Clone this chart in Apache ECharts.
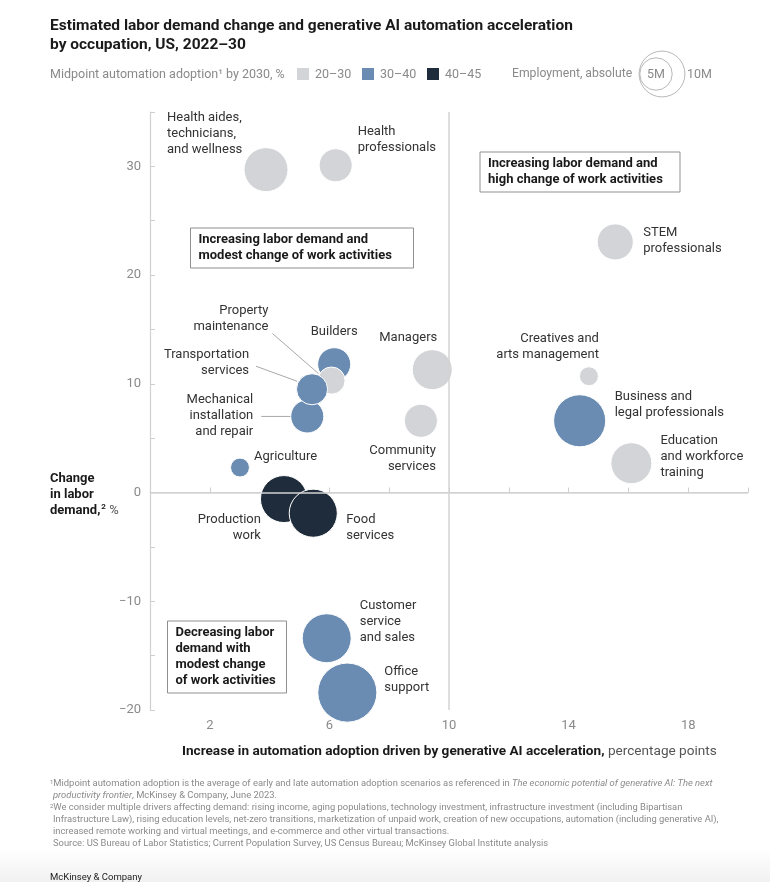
<!DOCTYPE html>
<html><head><meta charset="utf-8">
<script src="https://cdn.jsdelivr.net/npm/echarts@6/dist/echarts.min.js"></script>
<style>html,body{margin:0;padding:0;background:#fff}#c{width:770px;height:882px}</style>
</head><body><div id="c"></div>
<script>
// ---------- DATA ----------
const occupations = [
  'Health aides,\ntechnicians,\nand wellness',
  'Health\nprofessionals',
  'STEM\nprofessionals',
  'Managers',
  'Builders',
  'Property\nmaintenance',
  'Mechanical\ninstallation\nand repair',
  'Transportation\nservices',
  'Community\nservices',
  'Creatives and\narts management',
  'Business and\nlegal professionals',
  'Education\nand workforce\ntraining',
  'Agriculture',
  'Production\nwork',
  'Food\nservices',
  'Customer\nservice\nand sales',
  'Office\nsupport'
];
const automationIncreasePts = [3.88, 6.21, 15.56, 9.44, 6.16, 6.07, 5.26, 5.42, 9.06, 14.68, 14.37, 16.1, 3.01, 4.48, 5.46, 5.91, 6.6];
const laborDemandChangePct = [29.7, 30.1, 23.05, 11.3, 11.8, 10.3, 7.0, 9.5, 6.6, 10.7, 6.6, 2.7, 2.3, -0.6, -1.9, -13.4, -18.4];
const employmentMillions = [9.2, 5.2, 6.2, 7.6, 5.2, 3.5, 5.2, 4.6, 5.2, 1.7, 12.9, 8.0, 1.7, 10.5, 11.0, 11.4, 16.6];
const adoptionBand = ['20–30','20–30','20–30','20–30','30–40','20–30','30–40','30–40','20–30','20–30','30–40','20–30','30–40','40–45','40–45','30–40','30–40'];
const adoptionBands = ['20–30', '30–40', '40–45'];
const legendSizesM = [5, 10];
const xTickLabels = [2, 6, 10, 14, 18];
const yTickLabels = [-20, -10, 0, 10, 20, 30];

// ---------- STYLE / LAYOUT ----------
const bandColors = {'20–30': '#d2d4d7', '30–40': '#6a8bb2', '40–45': '#1f2c3b'};
const SIZE_K = 14.5; // px diameter per sqrt(million)
const FONT = 'Roboto, "Noto Sans", sans-serif';
const labelLayout = [
  {dx:-99, dy:-60, align:'left'},
  {dx:22, dy:-42, align:'left'},
  {dx:28, dy:-17, align:'left'},
  {dx:-24, dy:-40, align:'center'},
  {dx:0, dy:-40, align:'center'},
  {dx:-63, dy:-78, align:'right'},
  {dx:-54, dy:-25, align:'right'},
  {dx:-63, dy:-43, align:'right'},
  {dx:15, dy:22, align:'right'},
  {dx:10, dy:-45, align:'right'},
  {dx:35, dy:-32, align:'left'},
  {dx:29, dy:-30, align:'left'},
  {dx:14, dy:-19, align:'left'},
  {dx:-23, dy:13, align:'right'},
  {dx:33, dy:-1, align:'left'},
  {dx:33, dy:-40, align:'left'},
  {dx:37, dy:-29, align:'left'}
];
const leaderLines = [
  {idx:5, from:[-59,-47], to:[-13,-7]},
  {idx:7, from:[-56,-23], to:[-15,-8]},
  {idx:6, from:[-46,0], to:[-17,0]}
];

const chart = echarts.init(document.getElementById('c'), null, {renderer: 'canvas'});

const bubbleData = occupations.map((name, i) => ({
  name: name,
  value: [automationIncreasePts[i], laborDemandChangePct[i], employmentMillions[i]],
  itemStyle: {color: bandColors[adoptionBand[i]]},
  label: {
    show: true, formatter: name, position: 'inside',
    offset: [labelLayout[i].dx, labelLayout[i].dy],
    align: labelLayout[i].align, verticalAlign: 'top'
  }
}));

const gray = '#8a8a8a';
const FN = 9.4;

function fnLine(y, parts, x) {
  return {type:'text', left: x, top: y, style: {
    text: parts.map(p => '{' + p[0] + '|' + p[1] + '}').join(''),
    rich: {
      n: {fontSize: FN, fill: gray, fontFamily: FONT},
      i: {fontSize: FN, fill: gray, fontFamily: FONT, fontStyle: 'italic'},
      s: {fontSize: 6, fill: gray, fontFamily: FONT, verticalAlign: 'top', padding:[0,0,4,0]}
    }
  }};
}

const graphics = [
  {type:'text', left: 50, top: 17, style: {text: 'Estimated labor demand change and generative AI automation acceleration\nby occupation, US, 2022–30', fontSize: 15.5, fontWeight: 'bold', fill: '#1a1a1a', fontFamily: FONT, lineHeight: 19}},
  {type:'text', left: 50, top: 68, style: {text: 'Midpoint automation adoption¹ by 2030, %', fontSize: 12.5, fill: gray, fontFamily: FONT}},
];
const bandX = [297, 362, 427];
adoptionBands.forEach((b, k) => {
  graphics.push({type:'rect', shape:{x: bandX[k], y: 68, width: 12, height: 12}, style:{fill: bandColors[b]}});
  graphics.push({type:'text', left: bandX[k] + 18, top: 68, style:{text: b, fontSize: 12.5, fill: gray, fontFamily: FONT}});
});
graphics.push({type:'text', left: 512, top: 68, style:{text:'Employment, absolute', fontSize: 12.2, fill: gray, fontFamily: FONT}});
legendSizesM.forEach((m) => {
  const r = SIZE_K * Math.sqrt(m) / 2;
  graphics.push({type:'circle', shape:{cx: m === 5 ? 656 : 662, cy: 74, r: r}, style:{fill:'none', stroke:'#b8b8b8', lineWidth: 1}});
});
graphics.push({type:'text', left: 647, top: 68, style:{text:'5M', fontSize: 12.5, fill: gray, fontFamily: FONT}});
graphics.push({type:'text', left: 687, top: 68, style:{text:'10M', fontSize: 12.5, fill: gray, fontFamily: FONT}});

function qbox(x, y, w, h, text) {
  return {type:'group', children:[
    {type:'rect', shape:{x:x, y:y, width:w, height:h}, style:{fill:'#fff', stroke:'#8f8f8f', lineWidth:1}},
    {type:'text', x: x + 8, y: y + 4, style:{text: text, fontSize: 13, fontWeight:'bold', fill:'#1a1a1a', fontFamily: FONT, lineHeight: 16}}
  ], z: 5};
}
graphics.push(qbox(480, 152, 200, 40, 'Increasing labor demand and\nhigh change of work activities'));
graphics.push(qbox(190.5, 228, 223, 40, 'Increasing labor demand and\nmodest change of work activities'));
graphics.push(qbox(167.5, 621, 119, 72, 'Decreasing labor\ndemand with\nmodest change\nof work activities'));

graphics.push({type:'text', left: 50, top: 472, style:{
  text: '{b|Change}\n{b|in labor}\n{b|demand,}{bs|2}{r| %}',
  rich: {
    b: {fontSize: 13, fontWeight: 'bold', fill: '#1a1a1a', fontFamily: FONT, lineHeight: 16},
    bs: {fontSize: 8, fontWeight: 'bold', fill: '#1a1a1a', fontFamily: FONT, verticalAlign:'top', lineHeight: 16, padding:[0,0,6,1]},
    r: {fontSize: 13, fill: '#555', fontFamily: FONT, lineHeight: 16}
  }
}});
graphics.push({type:'text', left: 182, top: 745, style:{
  text: '{b|Increase in automation adoption driven by generative AI acceleration,}{r| percentage points}',
  rich: {
    b: {fontSize: 13.6, fontWeight: 'bold', fill: '#1a1a1a', fontFamily: FONT},
    r: {fontSize: 13.6, fill: '#555', fontFamily: FONT}
  }
}});
graphics.push(fnLine(779, [['s','1'],['n','Midpoint automation adoption is the average of early and late automation adoption scenarios as referenced in '],['i','The economic potential of generative AI: The next']], 50));
graphics.push(fnLine(791, [['i','productivity frontier'],['n',', McKinsey & Company, June 2023.']], 53));
graphics.push(fnLine(803, [['s','2'],['n','We consider multiple drivers affecting demand: rising income, aging populations, technology investment, infrastructure investment (including Bipartisan']], 50));
graphics.push(fnLine(815, [['n','Infrastructure Law), rising education levels, net-zero transitions, marketization of unpaid work, creation of new occupations, automation (including generative AI),']], 53));
graphics.push(fnLine(827, [['n','increased remote working and virtual meetings, and e-commerce and other virtual transactions.']], 53));
graphics.push(fnLine(839, [['n','Source: US Bureau of Labor Statistics; Current Population Survey, US Census Bureau; McKinsey Global Institute analysis']], 53));
graphics.push({type:'rect', shape:{x:0, y:850, width:770, height:32}, style:{fill: new echarts.graphic.LinearGradient(0,0,0,1,[{offset:0,color:'#ffffff'},{offset:1,color:'#f1f1f1'}])}, z: -1});
graphics.push({type:'text', left: 50, top: 873, style:{text:'McKinsey & Company', fontSize: 9.5, fill:'#222', fontFamily: FONT}});

const option = {
  animation: false,
  backgroundColor: '#fff',
  textStyle: {fontFamily: FONT},
  grid: {left: 150, right: 22, top: 112, bottom: 172, containLabel: false},
  xAxis: {
    type: 'value', min: 0, max: 20, interval: 2,
    axisLine: {show: true, lineStyle: {color: '#cfcfcf', width: 1.2}},
    axisTick: {show: true, inside: true, length: 5, lineStyle: {color: '#cfcfcf'}},
    axisLabel: {color: '#8a8a8a', fontSize: 13, margin: 9,
      formatter: v => xTickLabels.includes(v) ? String(v) : ''},
    splitLine: {show: false}
  },
  yAxis: {
    type: 'value', min: -20, max: 35, interval: 5,
    axisLine: {show: true, lineStyle: {color: '#cfcfcf', width: 1.2}},
    axisTick: {show: true, inside: true, length: 5, lineStyle: {color: '#cfcfcf'}},
    axisLabel: {color: '#8a8a8a', fontSize: 13, margin: 9,
      formatter: v => yTickLabels.includes(v) ? (v < 0 ? '−' + Math.abs(v) : String(v)) : ''},
    splitLine: {show: false}
  },
  series: [
    {
      type: 'scatter', data: [], z: 1, silent: true,
      markLine: {
        silent: true, symbol: ['none', 'none'], label: {show: false},
        lineStyle: {color: '#d3d3d3', width: 1.5, type: 'solid'},
        data: [{xAxis: 10}, {yAxis: 0}]
      }
    },
    {
      type: 'scatter', z: 3, clip: false,
      symbolSize: v => SIZE_K * Math.sqrt(v[2]),
      itemStyle: {borderColor: '#fff', borderWidth: 1, opacity: 1},
      label: {color: '#333', fontSize: 13, lineHeight: 16, fontFamily: FONT},
      emphasis: {disabled: true},
      data: bubbleData
    }
  ],
  graphic: graphics
};
chart.setOption(option);

const lines = leaderLines.map(l => {
  const p = chart.convertToPixel({gridIndex: 0}, [automationIncreasePts[l.idx], laborDemandChangePct[l.idx]]);
  return {type:'line', shape:{x1: p[0] + l.from[0], y1: p[1] + l.from[1], x2: p[0] + l.to[0], y2: p[1] + l.to[1]}, style:{stroke:'#a8a8a8', lineWidth: 1}, z: 10};
});
chart.setOption({graphic: graphics.concat(lines)});
</script></body></html>
